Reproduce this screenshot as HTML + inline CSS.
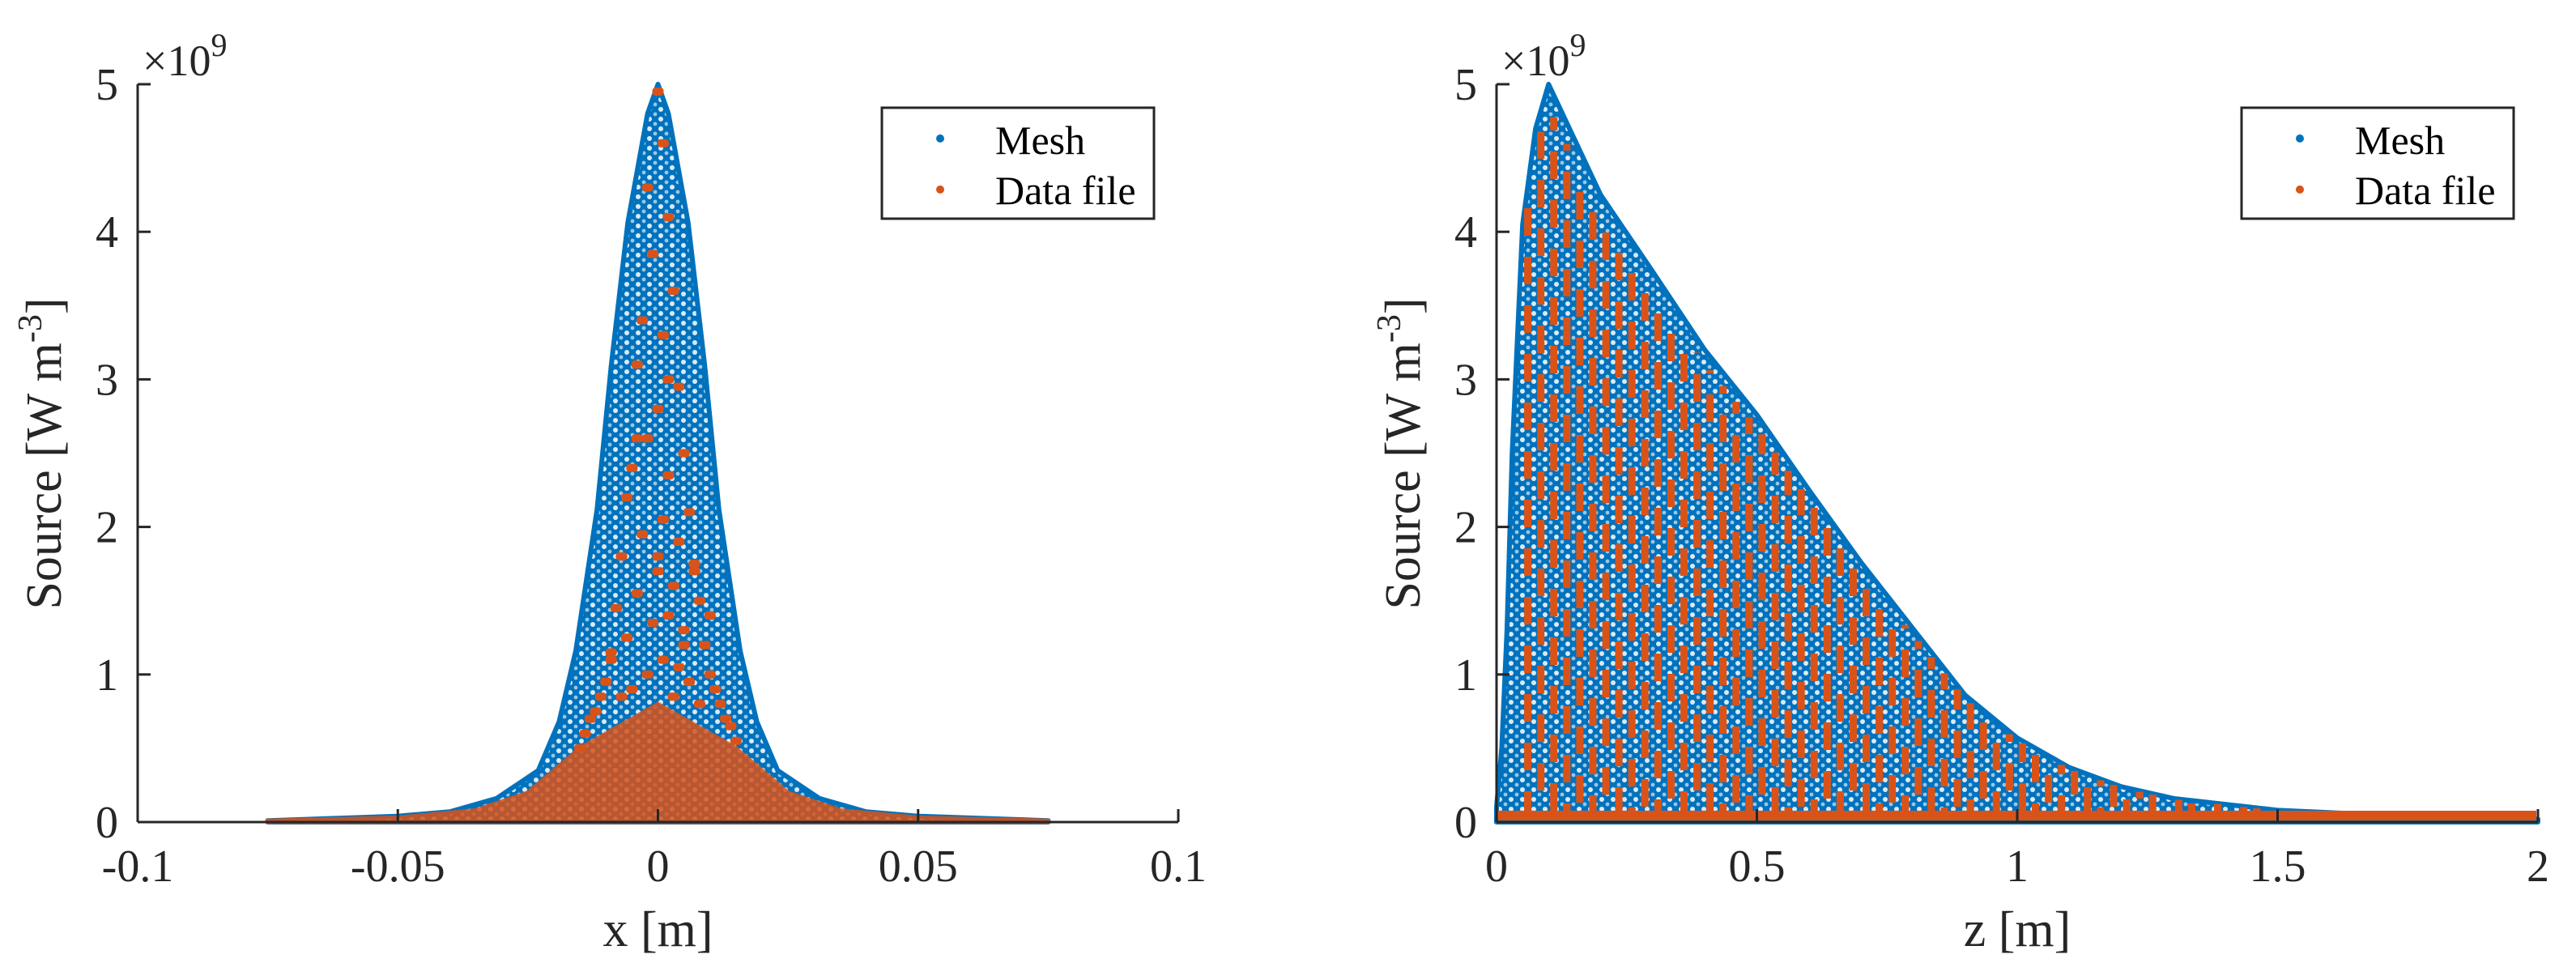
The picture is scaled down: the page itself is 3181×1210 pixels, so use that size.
<!DOCTYPE html>
<html><head><meta charset="utf-8">
<style>
html,body{margin:0;padding:0;background:#fff;}
svg{display:block;font-family:"Liberation Serif",serif;}
</style></head>
<body>
<svg id="fig" width="3181" height="1210" viewBox="0 0 3181 1210" xmlns="http://www.w3.org/2000/svg">
<defs>
<pattern id="meshpat" width="14" height="12" patternUnits="userSpaceOnUse">
<rect width="14" height="12" fill="#0072BD"/>
<circle cx="4" cy="3" r="3" fill="#fff" opacity="0.85"/>
<circle cx="11" cy="9" r="2.4" fill="#fff" opacity="0.6"/>
</pattern>
</defs>
<g id="left"></g>
<g id="right"></g>
</svg>
<script>
// ---------- data (values in 1e9 W m^-3) ----------
const leftEnvX = [-0.075,-0.05,-0.04,-0.031,-0.023,-0.019,-0.0158,-0.0117,-0.009,-0.0058,-0.002,0,0.002,0.0058,0.009,0.0117,0.0158,0.019,0.023,0.031,0.04,0.05,0.075];
const leftEnvV = [0.01,0.04,0.07,0.16,0.35,0.68,1.16,2.12,3.09,4.06,4.8,5.0,4.8,4.06,3.09,2.12,1.16,0.68,0.35,0.16,0.07,0.04,0.01];
const leftDataEnvX = [-0.075,-0.05,-0.035,-0.025,-0.02,-0.015,-0.01,-0.005,0,0.005,0.01,0.015,0.02,0.025,0.035,0.05,0.075];
const leftDataEnvV = [0.01,0.03,0.08,0.2,0.35,0.5,0.6,0.7,0.8,0.7,0.6,0.5,0.35,0.2,0.08,0.03,0.01];
const leftDataPtsX = [0,0.001,-0.002,0.002,-0.001,0.003,-0.003,0.001,-0.004,0.004,0.0,-0.002,0.005,-0.005,0.002,-0.006,0.006,0.001,-0.003,0.004,-0.007,0.007,0.0,0.003,-0.004,0.008,-0.008,0.002,-0.001,0.005,-0.006,0.009,-0.009,0.001,0.004,-0.002,0.010,-0.010,0.006,-0.005,0.011,-0.011,0.003,-0.007,0.008,0.012,-0.012,0.0,0.013,-0.013,0.005,-0.009,0.014,-0.014,0.002,0.010,-0.004,0.015,-0.015,0.007];
const leftDataPtsV = [4.95,4.6,4.3,4.1,3.85,3.6,3.4,3.3,3.1,2.95,2.8,2.6,2.5,2.4,2.35,2.2,2.1,2.05,1.95,1.9,1.8,1.75,1.7,1.6,1.55,1.5,1.45,1.4,1.35,1.3,1.25,1.2,1.15,1.1,1.05,1.0,1.0,0.95,0.95,0.9,0.9,0.85,0.85,0.85,0.8,0.8,0.75,1.8,0.7,0.7,1.2,1.1,0.65,0.6,3.0,1.4,2.6,0.55,0.5,1.7];
const rightEnvZ = [0,0.01,0.02,0.03,0.05,0.075,0.1,0.2,0.3,0.4,0.5,0.6,0.7,0.8,0.9,1.0,1.1,1.2,1.3,1.5,1.75,2.0];
const rightEnvV = [0.1,0.5,1.3,2.5,4.05,4.7,5.0,4.25,3.73,3.2,2.76,2.25,1.76,1.31,0.86,0.57,0.37,0.24,0.16,0.08,0.04,0.02];
const rightStreakZ = [0.06,0.085,0.11,0.135,0.16,0.185,0.21,0.235,0.26,0.285,0.31,0.335,0.36,0.385,0.41,0.435,0.46,0.485,0.51,0.535,0.56,0.585,0.61,0.635,0.66,0.685,0.71,0.735,0.76,0.785,0.81,0.835,0.86,0.885,0.91,0.935,0.96,0.985,1.01,1.035,1.06,1.085,1.11,1.135,1.16,1.185,1.21,1.235,1.26,1.285,1.31,1.335,1.36,1.385,1.41,1.435,1.46,1.485,1.51,1.535,1.56,1.585,1.61,1.635,1.66,1.685,1.71,1.735,1.76,1.785,1.81,1.835,1.86,1.885,1.91,1.935,1.96];
const leftXTicks = [-0.1,-0.05,0,0.05,0.1];
const leftXLabels = ["-0.1","-0.05","0","0.05","0.1"];
const rightXTicks = [0,0.5,1,1.5,2];
const rightXLabels = ["0","0.5","1","1.5","2"];
const yTicks = [0,1,2,3,4,5];
const yLabels = ["0","1","2","3","4","5"];

const NS = "http://www.w3.org/2000/svg";
const BLUE = "#0072BD", ORANGE = "#D95319", AX = "#262626";
const TOP = 104, BOT = 1015;
function yS(v){ return BOT - (v/5)*(BOT-TOP); }
function mk(parent, tag, attrs){ const e=document.createElementNS(NS,tag); for(const k in attrs) e.setAttribute(k,attrs[k]); parent.appendChild(e); return e; }
function interp(xs, vs, x){ if(x<=xs[0]) return vs[0]; for(let i=1;i<xs.length;i++){ if(x<=xs[i]){ const t=(x-xs[i-1])/(xs[i]-xs[i-1]); return vs[i-1]+t*(vs[i]-vs[i-1]); } } return vs[vs.length-1]; }

function areaPath(xs, vs, xS){
  let d = "M"+xS(xs[0])+","+BOT;
  for(let i=0;i<xs.length;i++) d += " L"+xS(xs[i]).toFixed(1)+","+yS(vs[i]).toFixed(1);
  d += " L"+xS(xs[xs.length-1])+","+BOT+" Z";
  return d;
}

function axes(g, x0, x1, xS, ticks, labels, xlabel, legendX){
  const yl = mk(g,"line",{x1:x0,y1:TOP,x2:x0,y2:BOT,stroke:AX,"stroke-width":3});
   
  const xl = mk(g,"line",{x1:x0,y1:BOT,x2:x1,y2:BOT,stroke:AX,"stroke-width":3});
   
  yTicks.forEach((v,i)=>{
    const t = mk(g,"line",{x1:x0,y1:yS(v),x2:x0+16,y2:yS(v),stroke:AX,"stroke-width":3});
     
    const tx = mk(g,"text",{x:x0-24,y:yS(v)+19,"text-anchor":"end","font-size":56,fill:"#262626"});
    tx.textContent = yLabels[i];
     
  });
  ticks.forEach((v,i)=>{
    const X = xS(v);
    const t = mk(g,"line",{x1:X,y1:BOT,x2:X,y2:BOT-16,stroke:AX,"stroke-width":3});
     
    const tx = mk(g,"text",{x:X,y:1088,"text-anchor":"middle","font-size":56,fill:"#262626"});
    tx.textContent = labels[i];
     
  });
  const ex = mk(g,"text",{x:x0+6,y:93,"font-size":54,fill:"#262626"});
  ex.innerHTML = '×10<tspan dy="-24" font-size="40">9</tspan>';
   
  const xt = mk(g,"text",{x:(x0+x1)/2,y:1168,"text-anchor":"middle","font-size":62,fill:"#262626"});
  xt.textContent = xlabel;
   
  const yt = mk(g,"text",{transform:"translate("+(x0-95)+","+560+") rotate(-90)","text-anchor":"middle","font-size":62,fill:"#262626"});
  yt.innerHTML = 'Source [W m<tspan dy="-24" font-size="42">-3</tspan><tspan dy="24">]</tspan>';
   
  const lg = mk(g,"g",{});
   
  mk(lg,"rect",{x:legendX,y:133,width:336,height:137,fill:"#fff",stroke:AX,"stroke-width":3});
  const e1 = mk(lg,"g",{});
   
  mk(e1,"circle",{cx:legendX+72,cy:171,r:5,fill:BLUE});
  const t1 = mk(e1,"text",{x:legendX+140,y:190,"font-size":50,fill:"#000"}); t1.textContent="Mesh";
  const e2 = mk(lg,"g",{});
   
  mk(e2,"circle",{cx:legendX+72,cy:234,r:5,fill:ORANGE});
  const t2 = mk(e2,"text",{x:legendX+140,y:252,"font-size":50,fill:"#000"}); t2.textContent="Data file";
}

// ---------- left panel ----------
const L = document.getElementById("left");
const LX0=170, LX1=1455;
function xL(x){ return LX0 + (x+0.1)/0.2*(LX1-LX0); }
const la = mk(L,"path",{d:areaPath(leftEnvX,leftEnvV,xL),fill:"url(#meshpat)",stroke:BLUE,"stroke-width":6,"stroke-linejoin":"round"});
 
const lda = mk(L,"path",{d:areaPath(leftDataEnvX,leftDataEnvV,xL),fill:ORANGE,opacity:0.85,stroke:ORANGE,"stroke-width":5});
 
const ldp = mk(L,"g",{fill:ORANGE});
 
leftDataPtsX.forEach((x,i)=>{
  const c = mk(ldp,"rect",{x:xL(x)-7,y:yS(leftDataPtsV[i])-5,width:14,height:10,rx:4});
   
});
axes(L,LX0,LX1,xL,leftXTicks,leftXLabels,"x [m]",1089);

// ---------- right panel ----------
const R = document.getElementById("right");
const RX0=1848, RX1=3134;
function xR(z){ return RX0 + z/2*(RX1-RX0); }
const ra = mk(R,"path",{d:areaPath(rightEnvZ,rightEnvV,xR),fill:"url(#meshpat)",stroke:BLUE,"stroke-width":6,"stroke-linejoin":"round"});
 
const rs = mk(R,"g",{stroke:ORANGE,"stroke-width":9});
 
rightStreakZ.forEach(z=>{
  const top = interp(rightEnvZ,rightEnvV,z)*0.97;
  const off = ((z*1000)%60).toFixed(0);
  const s = mk(rs,"line",{x1:xR(z),y1:BOT-4,x2:xR(z),y2:yS(top),"stroke-dasharray":"34 26","stroke-dashoffset":off});
   
});
const rb = mk(R,"rect",{x:RX0+2,y:BOT-14,width:RX1-RX0-4,height:12,fill:ORANGE});
 
axes(R,RX0,RX1,xR,rightXTicks,rightXLabels,"z [m]",2768);
</script>
</body></html>
